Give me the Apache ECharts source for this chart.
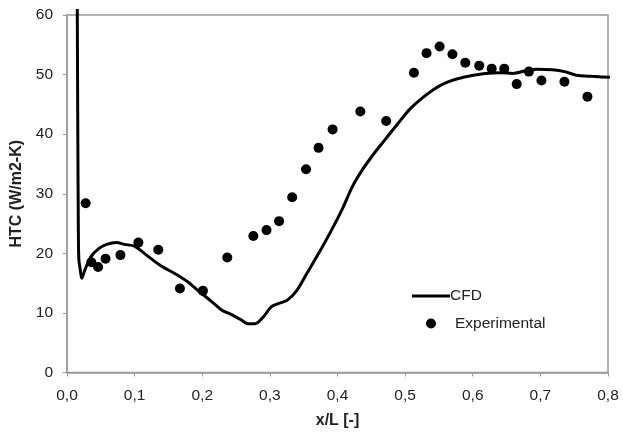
<!DOCTYPE html>
<html>
<head>
<meta charset="utf-8">
<script src="https://cdn.jsdelivr.net/npm/echarts@6/dist/echarts.min.js"></script>
<style>
  html, body { margin: 0; padding: 0; background: #fff; }
  #chart { width: 623px; height: 436px; }
</style>
</head>
<body>
<div id="chart"></div>
<script>
// CFD prediction of heat transfer coefficient along the surface
const cfdX = [0.0152, 0.0156, 0.0160, 0.0167, 0.0175, 0.0193, 0.0218, 0.0264, 0.0352, 0.0469,
  0.0586, 0.0733, 0.0850, 0.0997, 0.1143, 0.1377, 0.1612, 0.1788, 0.1964, 0.2140,
  0.2286, 0.2433, 0.2579, 0.2667, 0.2784, 0.2902, 0.3019, 0.3136, 0.3253, 0.3400,
  0.3546, 0.3722, 0.3898, 0.4074, 0.4220, 0.4367, 0.4543, 0.4719, 0.4894, 0.5070,
  0.5246, 0.5422, 0.5598, 0.5774, 0.6008, 0.6184, 0.6419, 0.6594, 0.6770, 0.6946,
  0.7180, 0.7356, 0.7532, 0.7767, 0.8089];
const cfdY = [61.0, 50.0, 40.0, 25.0, 19.0, 17.5, 15.8, 17.2, 19.4, 20.8,
  21.5, 21.8, 21.5, 21.2, 20.0, 18.0, 16.5, 15.2, 13.5, 11.9,
  10.5, 9.7, 8.8, 8.2, 8.2, 9.3, 11.0, 11.6, 12.1, 13.8,
  16.6, 20.0, 23.6, 27.5, 31.2, 34.0, 36.8, 39.3, 41.8, 44.2,
  46.0, 47.5, 48.6, 49.3, 49.9, 50.2, 50.3, 50.2, 50.6, 50.9,
  50.8, 50.5, 49.9, 49.7, 49.5];

// Measured values
const expX = [0.0276, 0.036, 0.046, 0.057, 0.079, 0.1055, 0.135, 0.167, 0.201, 0.237,
  0.2755, 0.295, 0.3136, 0.333, 0.3535, 0.372, 0.3927, 0.4338, 0.472, 0.513,
  0.5317, 0.551, 0.570, 0.589, 0.6096, 0.628, 0.6466, 0.665, 0.683, 0.7016,
  0.7356, 0.7696];
const expY = [28.4, 18.5, 17.7, 19.1, 19.7, 21.8, 20.6, 14.1, 13.7, 19.3,
  22.9, 23.9, 25.4, 29.4, 34.1, 37.7, 40.8, 43.8, 42.2, 50.3,
  53.6, 54.7, 53.4, 52.0, 51.5, 51.0, 51.0, 48.4, 50.5, 49.0,
  48.8, 46.3];

const xTicks = { min: 0, max: 0.8, step: 0.1 };
const yTicks = { min: 0, max: 60, step: 10 };

const pair = (xs, ys) => xs.map((x, i) => [x, ys[i]]);
const fontFam = '"Liberation Sans", Arial, sans-serif';
const axisGrey = '#9a9a9a';
const textColor = '#222';

const chart = echarts.init(document.getElementById('chart'), null, { renderer: 'canvas' });
chart.setOption({
  animation: false,
  backgroundColor: '#fff',
  grid: {
    left: 67, right: 15, top: 15, bottom: 63.5,
    show: true, borderColor: axisGrey, borderWidth: 1.5, backgroundColor: '#fff'
  },
  legend: {
    orient: 'vertical',
    left: 407, top: 283,
    padding: 5,
    itemWidth: 38, itemHeight: 10, itemGap: 11.5,
    symbolKeepAspect: true,
    textStyle: { fontFamily: fontFam, fontSize: 15.5, lineHeight: 16, color: textColor },
    data: [
      { name: 'CFD', icon: 'path://M0,0 H38 V3 H0 Z', textStyle: { padding: [0, 0, 0, -5] } },
      { name: 'Experimental', icon: 'circle' }
    ]
  },
  xAxis: {
    type: 'value',
    min: xTicks.min, max: xTicks.max, interval: xTicks.step,
    name: 'x/L [-]', nameLocation: 'middle', nameGap: 40,
    nameTextStyle: { fontFamily: fontFam, fontSize: 16, fontWeight: 'bold', color: textColor },
    axisLine: { lineStyle: { color: axisGrey, width: 1.5 } },
    axisTick: { show: true, inside: false, length: 4, lineStyle: { color: axisGrey } },
    axisLabel: {
      margin: 15, fontFamily: fontFam, fontSize: 15.5, color: textColor,
      formatter: v => v.toFixed(1).replace('.', ',')
    },
    splitLine: { show: false }
  },
  yAxis: {
    type: 'value',
    min: yTicks.min, max: yTicks.max, interval: yTicks.step,
    name: 'HTC (W/m2-K)', nameLocation: 'middle', nameGap: 39, nameRotate: 90,
    nameTextStyle: { fontFamily: fontFam, fontSize: 16, fontWeight: 'bold', color: textColor },
    axisLine: { show: true, lineStyle: { color: axisGrey, width: 1.5 } },
    axisTick: { show: true, inside: false, length: 4, lineStyle: { color: axisGrey } },
    axisLabel: { margin: 14, fontFamily: fontFam, fontSize: 15.5, color: textColor },
    splitLine: { show: false }
  },
  series: [
    {
      name: 'CFD', type: 'line', data: pair(cfdX, cfdY),
      symbol: 'none', smooth: 0.3, clip: false,
      lineStyle: { color: '#000', width: 3 },
      itemStyle: { color: '#000' }
    },
    {
      name: 'Experimental', type: 'scatter', data: pair(expX, expY),
      symbol: 'circle', symbolSize: 10,
      itemStyle: { color: '#000', opacity: 1 }
    }
  ]
});
</script>
</body>
</html>
